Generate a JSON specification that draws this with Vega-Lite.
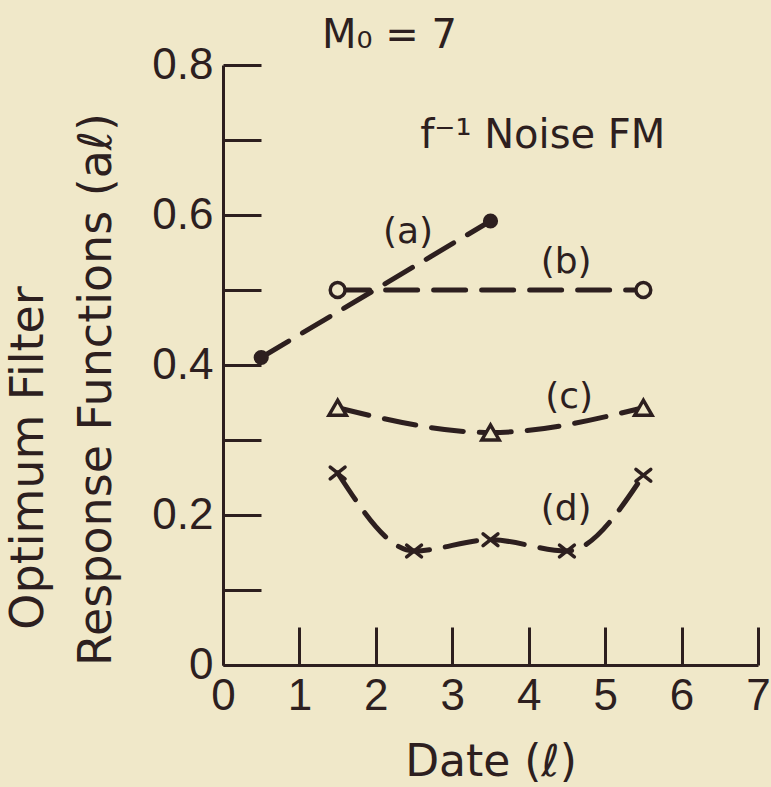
{
  "$schema": "https://vega.github.io/schema/vega-lite/v6.json",
  "width": 535,
  "height": 600,
  "autosize": {"type": "none"},
  "padding": {"left": 223, "top": 65, "right": 13, "bottom": 122},
  "background": "#f0e8c9",
  "config": {"view": {"stroke": null}, "font": "DejaVu Sans"},
  "datasets": {
    "points": [
      {"series": "a", "x": 0.5, "y": 0.41},
      {"series": "a", "x": 3.5, "y": 0.592},
      {"series": "b", "x": 1.5, "y": 0.5},
      {"series": "b", "x": 5.5, "y": 0.5},
      {"series": "c", "x": 1.5, "y": 0.343},
      {"series": "c", "x": 3.5, "y": 0.31},
      {"series": "c", "x": 5.5, "y": 0.343},
      {"series": "d", "x": 1.5, "y": 0.256},
      {"series": "d", "x": 2.5, "y": 0.152},
      {"series": "d", "x": 3.5, "y": 0.167},
      {"series": "d", "x": 4.5, "y": 0.152},
      {"series": "d", "x": 5.5, "y": 0.253}
    ],
    "seriesLabels": [
      {"text": "(a)", "x": 2.42, "y": 0.578},
      {"text": "(b)", "x": 4.49, "y": 0.537},
      {"text": "(c)", "x": 4.53, "y": 0.357},
      {"text": "(d)", "x": 4.49, "y": 0.208}
    ],
    "headings": [
      {"text": "M₀ = 7", "x": 1.296, "y": 0.823},
      {"text": "f⁻¹ Noise FM", "x": 2.58, "y": 0.69}
    ],
    "yTitleLine1": [
      {"text": "Optimum  Filter", "x": -2.356, "y": 0.276}
    ]
  },
  "encoding": {
    "x": {
      "field": "x", "type": "quantitative",
      "scale": {"domain": [0, 7], "nice": false, "zero": false},
      "axis": {
        "values": [0, 1, 2, 3, 4, 5, 6, 7],
        "grid": false,
        "tickSize": -38, "tickWidth": 3, "tickColor": "#2d1f1f",
        "domainWidth": 3, "domainColor": "#2d1f1f",
        "labelFont": "Liberation Sans", "labelFontSize": 44, "labelColor": "#2d1f1f",
        "labelPadding": 47, "labelFlush": false, "labelOverlap": false,
        "title": "Date (ℓ)", "titleFont": "DejaVu Sans", "titleFontSize": 44, "titleFontWeight": "normal", "titleColor": "#2d1f1f",
        "titleY": 110, "titleBaseline": "alphabetic"
      }
    },
    "y": {
      "field": "y", "type": "quantitative",
      "scale": {"domain": [0, 0.8], "nice": false, "zero": false},
      "axis": {
        "values": [0, 0.1, 0.2, 0.3, 0.4, 0.5, 0.6, 0.7, 0.8],
        "labelExpr": "round(datum.value*10) % 2 == 0 ? (datum.value == 0 ? '0' : format(datum.value, '.1f')) : ''",
        "grid": false,
        "tickSize": -38, "tickWidth": 3, "tickColor": "#2d1f1f",
        "domainWidth": 3, "domainColor": "#2d1f1f",
        "labelFont": "Liberation Sans", "labelFontSize": 44, "labelColor": "#2d1f1f",
        "labelPadding": 48, "labelFlush": false, "labelOverlap": false,
        "title": "Response Functions  (aℓ)", "titleFont": "DejaVu Sans", "titleFontSize": 46, "titleFontWeight": "normal", "titleColor": "#2d1f1f",
        "titleAngle": 270, "titleX": -113, "titleY": 324, "titleBaseline": "alphabetic", "titleAlign": "center"
      }
    }
  },
  "layer": [
    {
      "data": {"name": "points"},
      "mark": {"type": "line", "interpolate": "monotone", "strokeDash": [32, 16], "strokeWidth": 5, "strokeCap": "round", "color": "#2d1f1f"},
      "encoding": {
        "detail": {"field": "series"}
      }
    },
    {
      "data": {"name": "points"},
      "transform": [{"filter": "datum.series === 'a'"}],
      "mark": {"type": "point", "shape": "circle", "filled": true, "size": 230, "color": "#2d1f1f", "opacity": 1}
    },
    {
      "data": {"name": "points"},
      "transform": [{"filter": "datum.series === 'b'"}],
      "mark": {"type": "point", "shape": "circle", "filled": true, "fill": "#f0e8c9", "stroke": "#2d1f1f", "strokeWidth": 3.5, "size": 220, "opacity": 1}
    },
    {
      "data": {"name": "points"},
      "transform": [{"filter": "datum.series === 'c'"}],
      "mark": {"type": "point", "shape": "triangle-up", "filled": true, "fill": "#f0e8c9", "stroke": "#2d1f1f", "strokeWidth": 3.5, "size": 300, "opacity": 1}
    },
    {
      "data": {"name": "points"},
      "transform": [{"filter": "datum.series === 'd'"}],
      "mark": {"type": "point", "shape": "M-1,-0.8L1,0.8M1,-0.8L-1,0.8", "filled": false, "stroke": "#2d1f1f", "strokeWidth": 3.5, "strokeCap": "round", "size": 220, "opacity": 1}
    },
    {
      "data": {"name": "seriesLabels"},
      "mark": {"type": "text", "font": "DejaVu Sans", "fontSize": 36, "align": "center", "baseline": "middle", "color": "#2d1f1f"},
      "encoding": {"text": {"field": "text"}}
    },
    {
      "data": {"name": "headings"},
      "mark": {"type": "text", "font": "DejaVu Sans", "fontSize": 40, "align": "left", "baseline": "alphabetic", "color": "#2d1f1f"},
      "encoding": {"text": {"field": "text"}}
    },
    {
      "data": {"name": "yTitleLine1"},
      "mark": {"type": "text", "font": "DejaVu Sans", "fontSize": 46, "align": "center", "baseline": "alphabetic", "angle": 270, "color": "#2d1f1f"},
      "encoding": {"text": {"field": "text"}}
    }
  ]
}
